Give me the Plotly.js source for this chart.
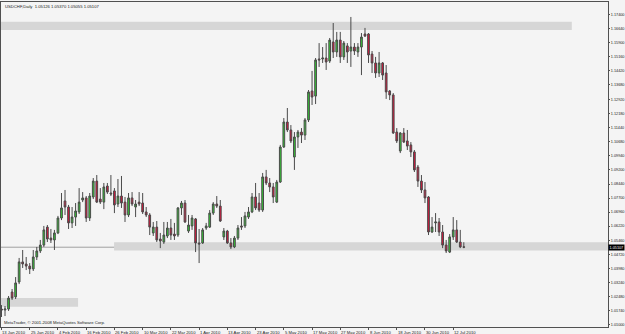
<!DOCTYPE html>
<html><head><meta charset="utf-8">
<script src="https://cdn.plot.ly/plotly-3.0.1.min.js"></script>
<style>html,body{margin:0;padding:0;background:#f4f4f4;}#chart{width:625px;height:334px;}</style>
</head><body><div id="chart"></div>
<script>
const symbolTitle = "USDCHF,Daily  1.05126 1.05370 1.05055 1.05107";
const copyrightText = "MetaTrader, \u00a9 2001-2008 MetaQuotes Software Corp.";
const dateLabels = ["13 Jan 2010","25 Jan 2010","4 Feb 2010","16 Feb 2010","26 Feb 2010","10 Mar 2010","22 Mar 2010","1 Apr 2010","13 Apr 2010","23 Apr 2010","5 May 2010","17 May 2010","27 May 2010","8 Jun 2010","18 Jun 2010","30 Jun 2010","12 Jul 2010"];
const dateLabelBars = [0,8,16,24,32,40,48,56,64,72,80,88,96,104,112,120,128];
const priceTicks = [1.01000,1.01740,1.02480,1.03240,1.03980,1.04720,1.05460,1.06220,1.06960,1.07700,1.08440,1.09200,1.09940,1.10680,1.11440,1.12180,1.12920,1.13680,1.14420,1.15160,1.15900,1.16640,1.17400];

const open = [1.0184,1.0179,1.0184,1.0274,1.0248,1.0327,1.0433,1.0422,1.0411,1.0396,
1.0459,1.0491,1.0522,1.0617,1.0559,1.0549,1.0586,1.0665,1.0755,1.0723,
1.0639,1.0670,1.0697,1.0760,1.0771,1.0665,1.0776,1.0860,1.0765,1.0749,
1.0834,1.0797,1.0808,1.0739,1.0781,1.0749,1.0681,1.0771,1.0723,1.0749,
1.0744,1.0697,1.0681,1.0586,1.0617,1.0554,1.0538,1.0570,1.0612,1.0580,
1.0575,1.0718,1.0744,1.0596,1.0623,1.0660,1.0533,1.0533,1.0612,1.0617,
1.0691,1.0739,1.0728,1.0565,1.0596,1.0533,1.0512,1.0559,1.0623,1.0623,
1.0670,1.0697,1.0776,1.0744,1.0707,1.0882,1.0850,1.0829,1.0749,1.0855,
1.1040,1.1172,1.1130,1.0987,1.1093,1.1119,1.1103,1.1183,1.1336,1.1309,
1.1505,1.1505,1.1510,1.1494,1.1595,1.1542,1.1605,1.1516,1.1574,1.1547,
1.1568,1.1542,1.1568,1.1637,1.1637,1.1531,1.1484,1.1431,1.1484,1.1431,
1.1336,1.1315,1.1119,1.1019,1.1114,1.1072,1.1051,1.1014,1.0934,1.0860,
1.0813,1.0776,1.0591,1.0639,1.0644,1.0591,1.0522,1.0485,1.0565,1.0602,
1.0538,1.05126];
const high = [1.0205,1.0200,1.0253,1.0290,1.0353,1.0454,1.0496,1.0459,1.0427,1.0496,
1.0512,1.0549,1.0623,1.0628,1.0607,1.0602,1.0676,1.0797,1.0813,1.0734,
1.0723,1.0744,1.0823,1.0802,1.0781,1.0797,1.0876,1.0892,1.0823,1.0850,
1.0850,1.0892,1.0823,1.0871,1.0887,1.0776,1.0797,1.0802,1.0760,1.0802,
1.0797,1.0723,1.0691,1.0644,1.0649,1.0586,1.0644,1.0644,1.0660,1.0639,
1.0723,1.0755,1.0760,1.0681,1.0681,1.0665,1.0607,1.0612,1.0639,1.0707,
1.0749,1.0781,1.0760,1.0612,1.0602,1.0559,1.0570,1.0628,1.0670,1.0697,
1.0723,1.0797,1.0850,1.0797,1.0903,1.0919,1.0876,1.0850,1.0866,1.1051,
1.1193,1.1246,1.1156,1.1119,1.1130,1.1140,1.1193,1.1341,1.1442,1.1510,
1.1589,1.1568,1.1589,1.1616,1.1695,1.1648,1.1648,1.1600,1.1589,1.1727,
1.1589,1.1589,1.1642,1.1669,1.1642,1.1547,1.1516,1.1542,1.1489,1.1473,
1.1341,1.1325,1.1140,1.1119,1.1140,1.1130,1.1066,1.1024,1.0945,1.0892,
1.0855,1.0781,1.0670,1.0691,1.0665,1.0628,1.0549,1.0580,1.0670,1.0654,
1.0602,1.05370];
const low = [1.0142,1.0147,1.0174,1.0232,1.0237,1.0316,1.0401,1.0390,1.0369,1.0385,
1.0443,1.0480,1.0512,1.0538,1.0533,1.0496,1.0580,1.0654,1.0681,1.0607,
1.0612,1.0623,1.0686,1.0749,1.0644,1.0649,1.0765,1.0744,1.0739,1.0712,
1.0792,1.0781,1.0691,1.0723,1.0718,1.0644,1.0670,1.0728,1.0670,1.0728,
1.0686,1.0670,1.0575,1.0570,1.0538,1.0506,1.0528,1.0559,1.0549,1.0549,
1.0565,1.0681,1.0639,1.0586,1.0602,1.0485,1.0427,1.0528,1.0602,1.0612,
1.0681,1.0718,1.0644,1.0549,1.0528,1.0501,1.0506,1.0549,1.0602,1.0612,
1.0660,1.0691,1.0707,1.0697,1.0697,1.0839,1.0802,1.0744,1.0744,1.0850,
1.1035,1.1119,1.1061,1.0919,1.1035,1.1061,1.1077,1.1172,1.1262,1.1267,
1.1463,1.1484,1.1447,1.1484,1.1510,1.1516,1.1484,1.1500,1.1484,1.1463,
1.1526,1.1516,1.1420,1.1621,1.1484,1.1431,1.1405,1.1410,1.1394,1.1294,
1.1288,1.1109,1.1061,1.1008,1.1061,1.1024,1.0987,1.0908,1.0829,1.0797,
1.0744,1.0575,1.0586,1.0591,1.0570,1.0506,1.0480,1.0480,1.0549,1.0533,
1.0506,1.05055];
const close = [1.0179,1.0184,1.0242,1.0242,1.0322,1.0433,1.0422,1.0411,1.0396,1.0459,
1.0491,1.0522,1.0602,1.0554,1.0549,1.0586,1.0665,1.0718,1.0723,1.0639,
1.0670,1.0702,1.0749,1.0771,1.0665,1.0781,1.0860,1.0749,1.0749,1.0829,
1.0802,1.0792,1.0734,1.0781,1.0744,1.0681,1.0771,1.0739,1.0739,1.0739,
1.0697,1.0681,1.0617,1.0617,1.0549,1.0543,1.0575,1.0612,1.0575,1.0570,
1.0718,1.0744,1.0644,1.0628,1.0665,1.0533,1.0528,1.0602,1.0623,1.0691,
1.0739,1.0728,1.0649,1.0596,1.0533,1.0512,1.0559,1.0612,1.0617,1.0676,
1.0697,1.0776,1.0718,1.0707,1.0882,1.0850,1.0829,1.0776,1.0855,1.1040,
1.1172,1.1130,1.1072,1.1093,1.1119,1.1103,1.1183,1.1331,1.1304,1.1500,
1.1500,1.1510,1.1489,1.1605,1.1542,1.1605,1.1516,1.1589,1.1542,1.1568,
1.1547,1.1568,1.1621,1.1626,1.1526,1.1484,1.1431,1.1484,1.1420,1.1331,
1.1315,1.1114,1.1072,1.1114,1.1066,1.1045,1.1014,1.0919,1.0860,1.0813,
1.0771,1.0591,1.0617,1.0644,1.0591,1.0522,1.0491,1.0565,1.0602,1.0538,
1.0512,1.05107];
const currentPrice = 1.05107;
// zones: [startBar, endBar (null = right edge), upper price, lower price]
const zoneTop = [-0.14, 161.6, 1.1702, 1.1658];
const zoneMid = [31.9, null, 1.0537, 1.0493];
const zoneLow = [-0.14, 21.7, 1.0242, 1.0196];

const bars = open.map((_, i) => i);
const fam = 'Liberation Sans, Arial, sans-serif';
const smallFont = {family:fam, size:4.2, color:'#222'};
const axisFont = {family:fam, size:3.8, color:'#222'};

function zoneShape(z){
  return {type:'rect', layer:'below', xref: 'x', yref:'y',
    x0:z[0], x1: z[1]===null ? 171.86 : z[1], y0:z[3], y1:z[2],
    fillcolor:'#d6d6d6', line:{width:0}};
}

const trace = {
  type:'candlestick', x:bars, open:open, high:high, low:low, close:close,
  increasing:{line:{color:'#4a4a4a', width:1}, fillcolor:'#33cc33'},
  decreasing:{line:{color:'#4a4a4a', width:1}, fillcolor:'#dc143c'},
  whiskerwidth:0, hoverinfo:'skip', showlegend:false
};

const annotations = dateLabels.map((t,k)=>({
  xref:'x', yref:'paper', x:dateLabelBars[k], y:0, xanchor:'left', yanchor:'top',
  text:t, showarrow:false, font:smallFont, xshift:-1, yshift:-1
}));
annotations.push({xref:'paper', yref:'paper', x:0, y:1, xanchor:'left', yanchor:'top',
  text:symbolTitle, showarrow:false, font:smallFont, xshift:2, yshift:0});
annotations.push({xref:'paper', yref:'paper', x:0, y:0, xanchor:'left', yanchor:'bottom',
  text:copyrightText, showarrow:false, font:smallFont, xshift:1, yshift:0});
annotations.push({xref:'paper', yref:'y', x:1, y:currentPrice, xanchor:'left', yanchor:'middle',
  text:currentPrice.toFixed(5), showarrow:false, font:{family:fam, size:3.8, color:'#ffffff'},
  bgcolor:'#000000', borderpad:0.5, xshift:0});

const layout = {
  width:625, height:334,
  margin:{l:1, r:17, t:2, b:7, pad:0},
  paper_bgcolor:'#f4f4f4', plot_bgcolor:'#f4f4f4',
  showlegend:false,
  xaxis:{range:[-0.14,171.86], showgrid:false, zeroline:false, rangeslider:{visible:false},
    showline:true, mirror:true, linecolor:'#505050', linewidth:1,
    tickmode:'array', tickvals:dateLabelBars, ticks:'outside', ticklen:2, tickcolor:'#505050',
    showticklabels:false, automargin:false, fixedrange:true},
  yaxis:{side:'right', range:[1.00892,1.1806], showgrid:false, zeroline:false,
    showline:true, mirror:true, linecolor:'#505050', linewidth:1,
    tickmode:'array', tickvals:priceTicks, ticktext:priceTicks.map(v=>v.toFixed(5)),
    ticks:'outside', ticklen:1, tickcolor:'#505050', tickfont:axisFont, ticklabelstandoff:0,
    automargin:false, fixedrange:true},
  shapes:[zoneShape(zoneTop), zoneShape(zoneMid), zoneShape(zoneLow),
    {type:'line', layer:'below', xref:'paper', yref:'y', x0:0, x1:1, y0:currentPrice, y1:currentPrice,
     line:{color:'#a0a0a0', width:1}}],
  annotations:annotations
};

Plotly.newPlot('chart', [trace], layout, {displayModeBar:false, staticPlot:true});
</script>
</body></html>
